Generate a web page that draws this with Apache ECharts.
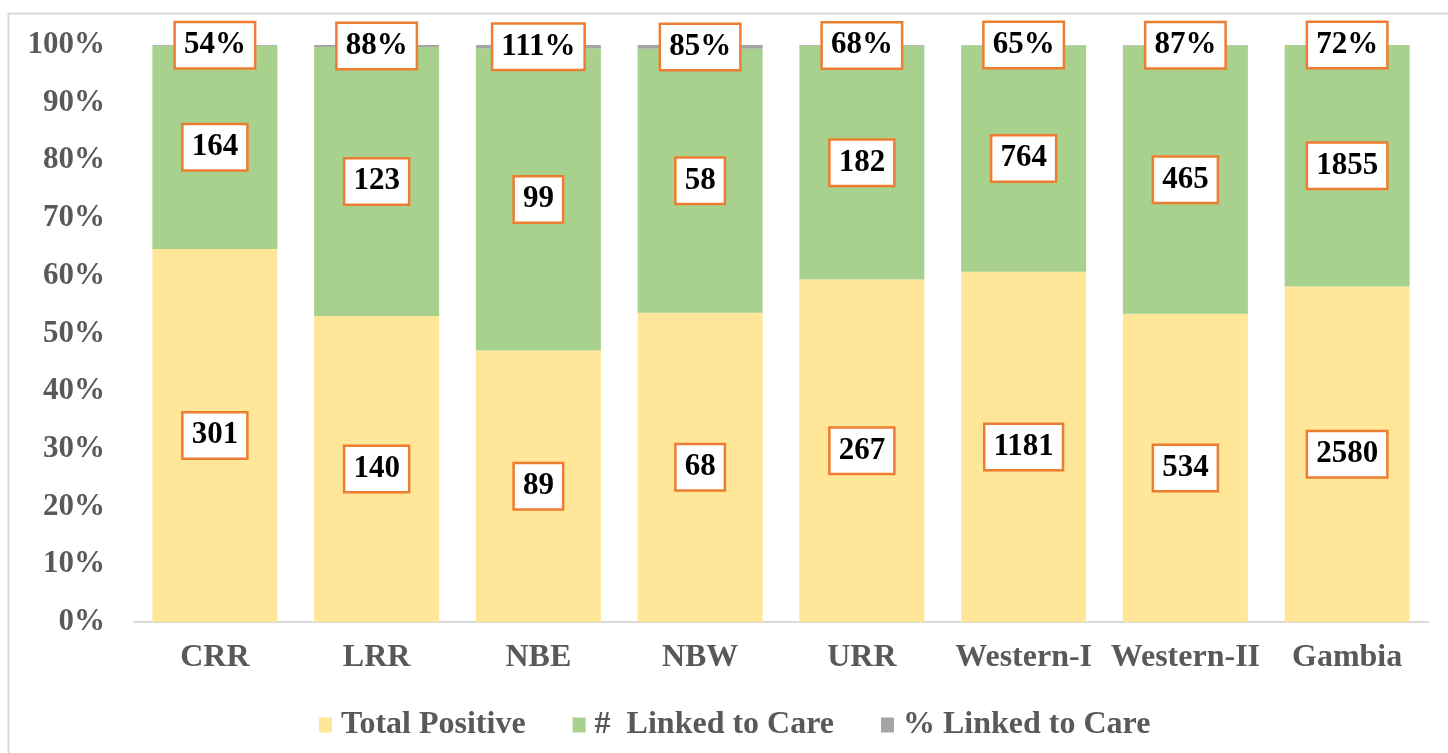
<!DOCTYPE html>
<html>
<head>
<meta charset="utf-8">
<script src="https://cdn.jsdelivr.net/npm/echarts@6/dist/echarts.min.js"></script>
<style>
html,body{margin:0;padding:0;background:#fff;}
#c{width:1448px;height:753px;}
</style>
</head>
<body>
<div id="c"></div>
<script>
var categories = ['CRR','LRR','NBE','NBW','URR','Western-I','Western-II','Gambia'];
var totalPositive = [301,140,89,68,267,1181,534,2580];
var linkedToCare = [164,123,99,58,182,764,465,1855];
var pctLinked = [54,88,111,85,68,65,87,72];
var yTicks = [0,10,20,30,40,50,60,70,80,90,100];

var FONT = '"Liberation Serif","Times New Roman",serif';
var totals = categories.map(function(c,i){return totalPositive[i]+linkedToCare[i]+pctLinked[i]/100;});
function share(arr, div){return arr.map(function(v,i){return (v/div)/totals[i]*100;});}

var labelStyle = {
  show:true, position:'inside', color:'#000', fontFamily:FONT, fontWeight:'bold', fontSize:31,
  backgroundColor:'#fff', borderColor:'#ED7D31', borderWidth:2.5, padding:[6,8,4,8], lineHeight:34
};

var chart = echarts.init(document.getElementById('c'));
chart.setOption({
  animation:false,
  backgroundColor:'#fff',
  graphic:[{type:'rect', shape:{x:8.5,y:13.5,width:1460,height:760}, style:{fill:'none',stroke:'#D9D9D9',lineWidth:2}, silent:true}],
  grid:{left:134,right:20,top:45,bottom:131},
  legend:{
    left:314, top:704, itemWidth:13, itemHeight:15, itemGap:47, icon:'rect',
    textStyle:{fontFamily:FONT,fontWeight:'bold',fontSize:32,color:'#595959',padding:[0,0,0,4]},
    data:['Total Positive','#  Linked to Care','% Linked to Care']
  },
  xAxis:{
    type:'category', data:categories,
    axisTick:{show:false},
    axisLine:{lineStyle:{color:'#D9D9D9',width:2}},
    axisLabel:{interval:0,fontFamily:FONT,fontWeight:'bold',fontSize:32,color:'#595959',margin:20}
  },
  yAxis:{
    type:'value', min:0, max:100, interval:10,
    splitLine:{show:false}, axisLine:{show:false}, axisTick:{show:false},
    axisLabel:{fontFamily:FONT,fontWeight:'bold',fontSize:31,color:'#595959',margin:29,
      formatter:function(v){return yTicks.indexOf(v)>=0 ? v+'%' : '';}}
  },
  series:[
    {name:'Total Positive', type:'bar', stack:'s', barWidth:125, data:share(totalPositive,1),
     itemStyle:{color:'#FFE699'},
     label:Object.assign({},labelStyle,{formatter:function(p){return totalPositive[p.dataIndex];}})},
    {name:'#  Linked to Care', type:'bar', stack:'s', barWidth:125, data:share(linkedToCare,1),
     itemStyle:{color:'#A9D18E'},
     label:Object.assign({},labelStyle,{formatter:function(p){return linkedToCare[p.dataIndex];}})},
    {name:'% Linked to Care', type:'bar', stack:'s', barWidth:125, data:share(pctLinked,100),
     itemStyle:{color:'#A5A5A5'},
     label:Object.assign({},labelStyle,{formatter:function(p){return pctLinked[p.dataIndex]+'%';}})}
  ]
});
</script>
</body>
</html>
